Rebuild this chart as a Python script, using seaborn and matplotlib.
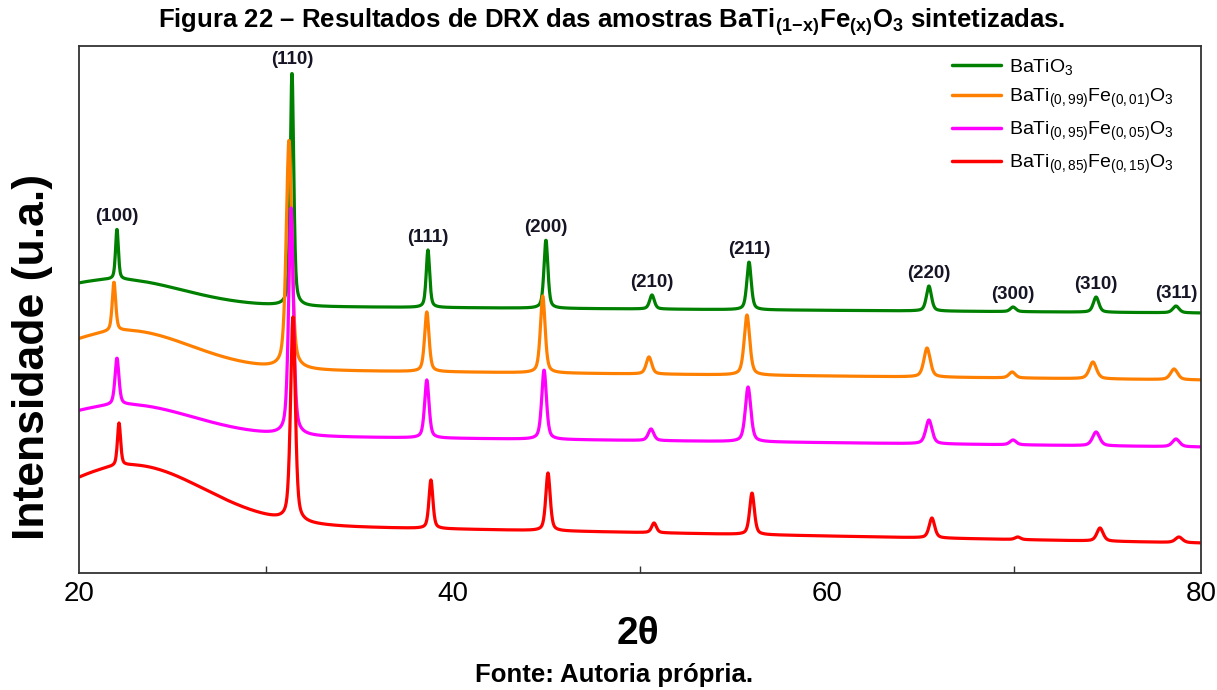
import numpy as np
import pandas as pd
import matplotlib
matplotlib.use("Agg")
import matplotlib.pyplot as plt
from matplotlib.ticker import MultipleLocator
import seaborn as sns

# ---- samples --------------------------------------------------------------
samples = [
    "BaTiO$_3$",
    "BaTi$_{(0,99)}$Fe$_{(0,01)}$O$_3$",
    "BaTi$_{(0,95)}$Fe$_{(0,05)}$O$_3$",
    "BaTi$_{(0,85)}$Fe$_{(0,15)}$O$_3$",
]
colors = ["#008000", "#ff8000", "#ff00ff", "#ff0000"]

# Miller indices of the perovskite reflections
hkl = ["(100)", "(110)", "(111)", "(200)", "(210)",
       "(211)", "(220)", "(300)", "(310)", "(311)"]

# peak centres (2theta, deg), apex intensity (offset traces, a.u.) and FWHM (deg)
pos_x000 = [22.03, 31.39, 38.66, 44.97, 50.64, 55.83, 65.45, 69.95, 74.39, 78.66]
apex_x000 = [344, 501, 323, 333, 278, 311, 287, 266, 276, 267]
fwhm_x000 = [0.18, 0.22, 0.22, 0.25, 0.30, 0.28, 0.32, 0.35, 0.35, 0.40]

pos_x001 = [21.87, 31.23, 38.60, 44.80, 50.48, 55.72, 65.35, 69.90, 74.22, 78.56]
apex_x001 = [291, 433, 261, 277, 216, 258, 225, 201, 211, 204]
fwhm_x001 = [0.22, 0.35, 0.28, 0.30, 0.35, 0.35, 0.40, 0.40, 0.45, 0.45]

pos_x005 = [22.03, 31.34, 38.60, 44.87, 50.59, 55.78, 65.45, 69.95, 74.39, 78.66]
apex_x005 = [215, 365, 193, 203, 144, 186, 153, 133, 141, 134]
fwhm_x005 = [0.25, 0.30, 0.28, 0.30, 0.35, 0.35, 0.40, 0.40, 0.45, 0.45]

pos_x015 = [22.14, 31.44, 38.82, 45.08, 50.75, 55.99, 65.61, 70.20, 74.60, 78.82]
apex_x015 = [150, 256, 93, 100, 50, 80, 55, 36, 45, 36]
fwhm_x015 = [0.20, 0.30, 0.25, 0.28, 0.30, 0.30, 0.35, 0.35, 0.40, 0.45]

# background: level at 20 deg, level at 80 deg, amorphous hump height, centre, width
bg_x000 = [268, 260, 26, 22.0, 3.5]
bg_x001 = [205, 193, 38, 22.5, 3.5]
bg_x005 = [139, 126, 30, 22.5, 3.6]
bg_x015 = [51, 30, 58, 22.8, 3.9]

series = [
    (pos_x000, apex_x000, fwhm_x000, bg_x000),
    (pos_x001, apex_x001, fwhm_x001, bg_x001),
    (pos_x005, apex_x005, fwhm_x005, bg_x005),
    (pos_x015, apex_x015, fwhm_x015, bg_x015),
]

two_theta = np.arange(20.0, 80.0001, 0.02)


def background(x, bg):
    lo, hi, amp, cen, sig = bg
    return lo + (hi - lo) * (x - 20.0) / 60.0 + amp * np.exp(-0.5 * ((x - cen) / sig) ** 2)


def pseudo_voigt(x, cen, fwhm, eta=0.5):
    hw = fwhm / 2.0
    lor = hw ** 2 / ((x - cen) ** 2 + hw ** 2)
    gau = np.exp(-np.log(2.0) * ((x - cen) / hw) ** 2)
    return eta * lor + (1 - eta) * gau


frames = []
for name, (pos, apex, fwhm, bg) in zip(samples, series):
    y = background(two_theta, bg)
    for c, a, w in zip(pos, apex, fwhm):
        net = a - background(np.array([c]), bg)[0]
        y = y + net * pseudo_voigt(two_theta, c, w)
    frames.append(pd.DataFrame({"2theta": two_theta, "I": y, "amostra": name}))
df = pd.concat(frames, ignore_index=True)

# ---- figure ---------------------------------------------------------------
sns.set_theme(style="white")
plt.rcParams["font.family"] = ["Liberation Sans", "DejaVu Sans"]
plt.rcParams["mathtext.fontset"] = "custom"
plt.rcParams["mathtext.rm"] = "Liberation Sans"
plt.rcParams["mathtext.it"] = "Liberation Sans:italic"
plt.rcParams["mathtext.bf"] = "Liberation Sans:bold"
plt.rcParams["mathtext.default"] = "regular"
plt.rcParams["text.color"] = "black"
plt.rcParams["axes.labelcolor"] = "black"

fig = plt.figure(figsize=(12.17, 6.90), dpi=100)
ax = fig.add_axes([79 / 1217, 117 / 690, 1122 / 1217, 527 / 690])

sns.lineplot(data=df, x="2theta", y="I", hue="amostra", hue_order=samples,
             palette=colors, linewidth=2.3, estimator=None, sort=False, ax=ax)

ax.set_xlim(20, 80)
ax.set_ylim(0, 527)
ax.set_yticks([])
ax.xaxis.set_major_locator(MultipleLocator(20))
ax.xaxis.set_minor_locator(MultipleLocator(10))
ax.tick_params(axis="x", which="major", direction="in", length=9, width=1.0,
               labelsize=20, pad=6, colors="#333333", labelcolor="black")
ax.tick_params(axis="x", which="minor", direction="in", length=5, width=1.0,
               colors="#333333", bottom=True)
for sp in ax.spines.values():
    sp.set_visible(True)
    sp.set_color("#333333")
    sp.set_linewidth(1.3)
ax.set_xlabel("")
ax.set_ylabel("")

# reflection labels above the undoped pattern
for lab, c, a in zip(hkl, pos_x000, apex_x000):
    ax.annotate(lab, xy=(c, a), xytext=(0, 3), textcoords="offset points",
                ha="center", va="bottom", fontsize=13.5, fontweight="bold",
                color="#151525")

handles, labels = ax.get_legend_handles_labels()
leg = ax.legend(handles, labels, loc="upper left", bbox_to_anchor=(952 / 1217, 1 - 57 / 690),
                bbox_transform=fig.transFigure, frameon=False, fontsize=14,
                handlelength=2.5, handletextpad=0.45, labelspacing=0.5,
                borderpad=0, borderaxespad=0)
for line in leg.get_lines():
    line.set_linewidth(2.5)

fig.text(612 / 1217, 1 - 22 / 690,
         r"Figura 22 – Resultados de DRX das amostras BaTi$_{\mathbf{(1\!-\!x)}}$Fe$_{\mathbf{(x)}}$O$_{\mathbf{3}}$ sintetizadas.",
         ha="center", va="center", fontsize=18.5, fontweight="bold")
fig.text(638 / 1217, 1 - 634 / 690, "2θ", ha="center", va="center",
         fontsize=28, fontweight="bold")
fig.text(614 / 1217, 1 - 675 / 690, "Fonte: Autoria própria.", ha="center",
         va="center", fontsize=18.5, fontweight="bold")
fig.text(33 / 1217, 1 - 357 / 690, "Intensidade (u.a.)", ha="center", va="center",
         rotation=90, fontsize=32, fontweight="bold")

fig.savefig("out.png", dpi=100)
